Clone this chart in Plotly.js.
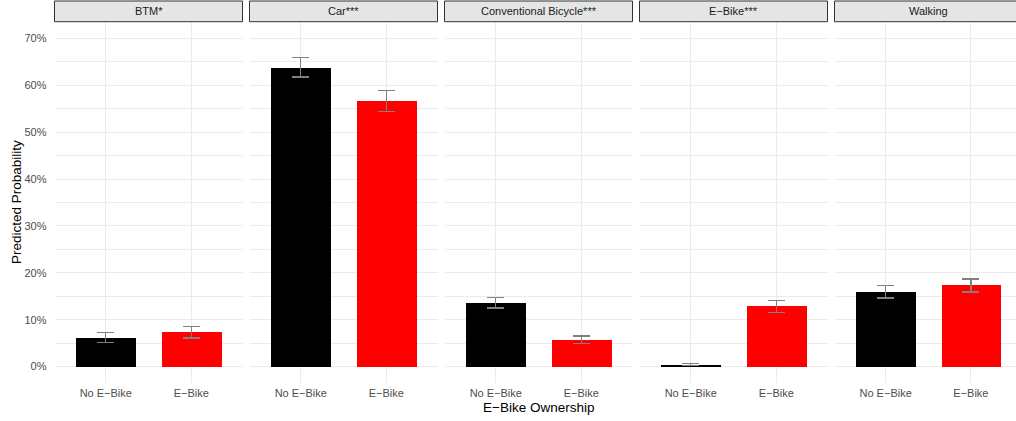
<!DOCTYPE html>
<html>
<head>
<meta charset="utf-8">
<script src="https://cdn.plot.ly/plotly-3.0.1.min.js"></script>
<style>
html, body { margin: 0; padding: 0; overflow: hidden; background: #fff; width: 1016px; height: 421px; }
#chart { width: 1022px; height: 421px; }
</style>
</head>
<body>
<div id="chart"></div>
<script>
const modes = ["BTM*", "Car***", "Conventional Bicycle***", "E\u2212Bike***", "Walking"];
const groups = ["No E\u2212Bike", "E\u2212Bike"];
const noEbike = [0.061, 0.637, 0.136, 0.004, 0.159];
const noEbikeLower = [0.051, 0.618, 0.125, 0.002, 0.146];
const noEbikeUpper = [0.072, 0.659, 0.148, 0.007, 0.173];
const ebike = [0.074, 0.567, 0.057, 0.129, 0.174];
const ebikeLower = [0.061, 0.544, 0.050, 0.116, 0.159];
const ebikeUpper = [0.086, 0.589, 0.065, 0.141, 0.187];
const barColors = ["#000000", "#FF0000"];

const W = 1022, H = 421;
const mL = 54, mR = 0, mT = 22, mB = 38;
const plotW = W - mL - mR, plotH = H - mT - mB;
const panelW = 188, panelStep = 195, panelStart = 54.5;

const font = "Liberation Sans, Arial, Helvetica, sans-serif";
const traces = [];
const layout = {
  width: W, height: H,
  margin: {l: mL, r: mR, t: mT, b: mB, pad: 0},
  paper_bgcolor: "#ffffff",
  plot_bgcolor: "rgba(0,0,0,0)",
  showlegend: false,
  bargap: 0,
  font: {family: font, size: 11, color: "#4d4d4d"},
  shapes: [],
  annotations: []
};

modes.forEach((m, i) => {
  const xa = i === 0 ? "x" : "x" + (i + 1);
  const ya = i === 0 ? "y" : "y" + (i + 1);
  const x0 = panelStart + panelStep * i;
  const d0 = (x0 - mL) / plotW, d1 = (x0 + panelW - mL) / plotW;
  const vals = [noEbike[i], ebike[i]];
  const upper = [noEbikeUpper[i], ebikeUpper[i]];
  const lower = [noEbikeLower[i], ebikeLower[i]];
  traces.push({
    type: "bar",
    x: groups,
    y: vals,
    width: 0.7,
    xaxis: xa, yaxis: ya,
    marker: {color: barColors, line: {width: 0}},
    error_y: {
      type: "data", symmetric: false,
      array: upper.map((u, k) => u - vals[k]),
      arrayminus: lower.map((l, k) => vals[k] - l),
      color: "#808080", thickness: 1.3, width: 8.5
    },
    hoverinfo: "skip"
  });
  const xk = i === 0 ? "xaxis" : "xaxis" + (i + 1);
  const yk = i === 0 ? "yaxis" : "yaxis" + (i + 1);
  layout[xk] = {
    domain: [d0, d1], anchor: ya,
    type: "category", categoryorder: "array", categoryarray: groups,
    range: [-0.6, 1.6],
    showgrid: true, gridcolor: "#ebebeb", gridwidth: 1.1,
    zeroline: false, showline: false, ticks: "",
    tickfont: {family: font, size: 11, color: "#4d4d4d"},
    ticklabelstandoff: 2, fixedrange: true
  };
  layout[yk] = {
    domain: [0, 1], anchor: xa,
    range: [-0.035, 0.735],
    tickvals: [0, 0.1, 0.2, 0.3, 0.4, 0.5, 0.6, 0.7],
    ticktext: ["0%", "10%", "20%", "30%", "40%", "50%", "60%", "70%"],
    showticklabels: i === 0,
    showgrid: true, gridcolor: "#ebebeb", gridwidth: 1.1,
    minor: {tickvals: [0.05, 0.15, 0.25, 0.35, 0.45, 0.55, 0.65], showgrid: true, gridcolor: "#ebebeb", gridwidth: 0.55},
    zeroline: false, showline: false, ticks: "",
    tickfont: {family: font, size: 11, color: "#4d4d4d"},
    ticklabelstandoff: 7, fixedrange: true
  };
  if (i > 0) layout[yk].matches = "y";
  layout.shapes.push({
    type: "rect", xref: "paper", yref: "paper",
    x0: d0, x1: d1, y0: 1 + 0.3 / plotH, y1: 1 + 21 / plotH,
    fillcolor: "#e5e5e5", line: {color: "#333333", width: 1}, layer: "above"
  });
  layout.annotations.push({
    text: m, xref: "paper", yref: "paper",
    x: (d0 + d1) / 2, y: 1 + 10.8 / plotH, xanchor: "center", yanchor: "middle",
    showarrow: false, font: {family: font, size: 11, color: "#1a1a1a"}
  });
});

layout.annotations.push({
  text: "E\u2212Bike Ownership", xref: "paper", yref: "paper",
  x: (538 - mL) / plotW, y: -(407.5 - mT - plotH) / plotH, xanchor: "center", yanchor: "middle",
  showarrow: false, font: {family: font, size: 13.5, color: "#000000"}
});
layout.annotations.push({
  text: "Predicted Probability", xref: "paper", yref: "paper",
  x: (16 - mL) / plotW, y: 1 - (202 - mT) / plotH, xanchor: "center", yanchor: "middle",
  textangle: -90,
  showarrow: false, font: {family: font, size: 13.5, color: "#000000"}
});

Plotly.newPlot("chart", traces, layout, {displayModeBar: false, responsive: false});
</script>
</body>
</html>
